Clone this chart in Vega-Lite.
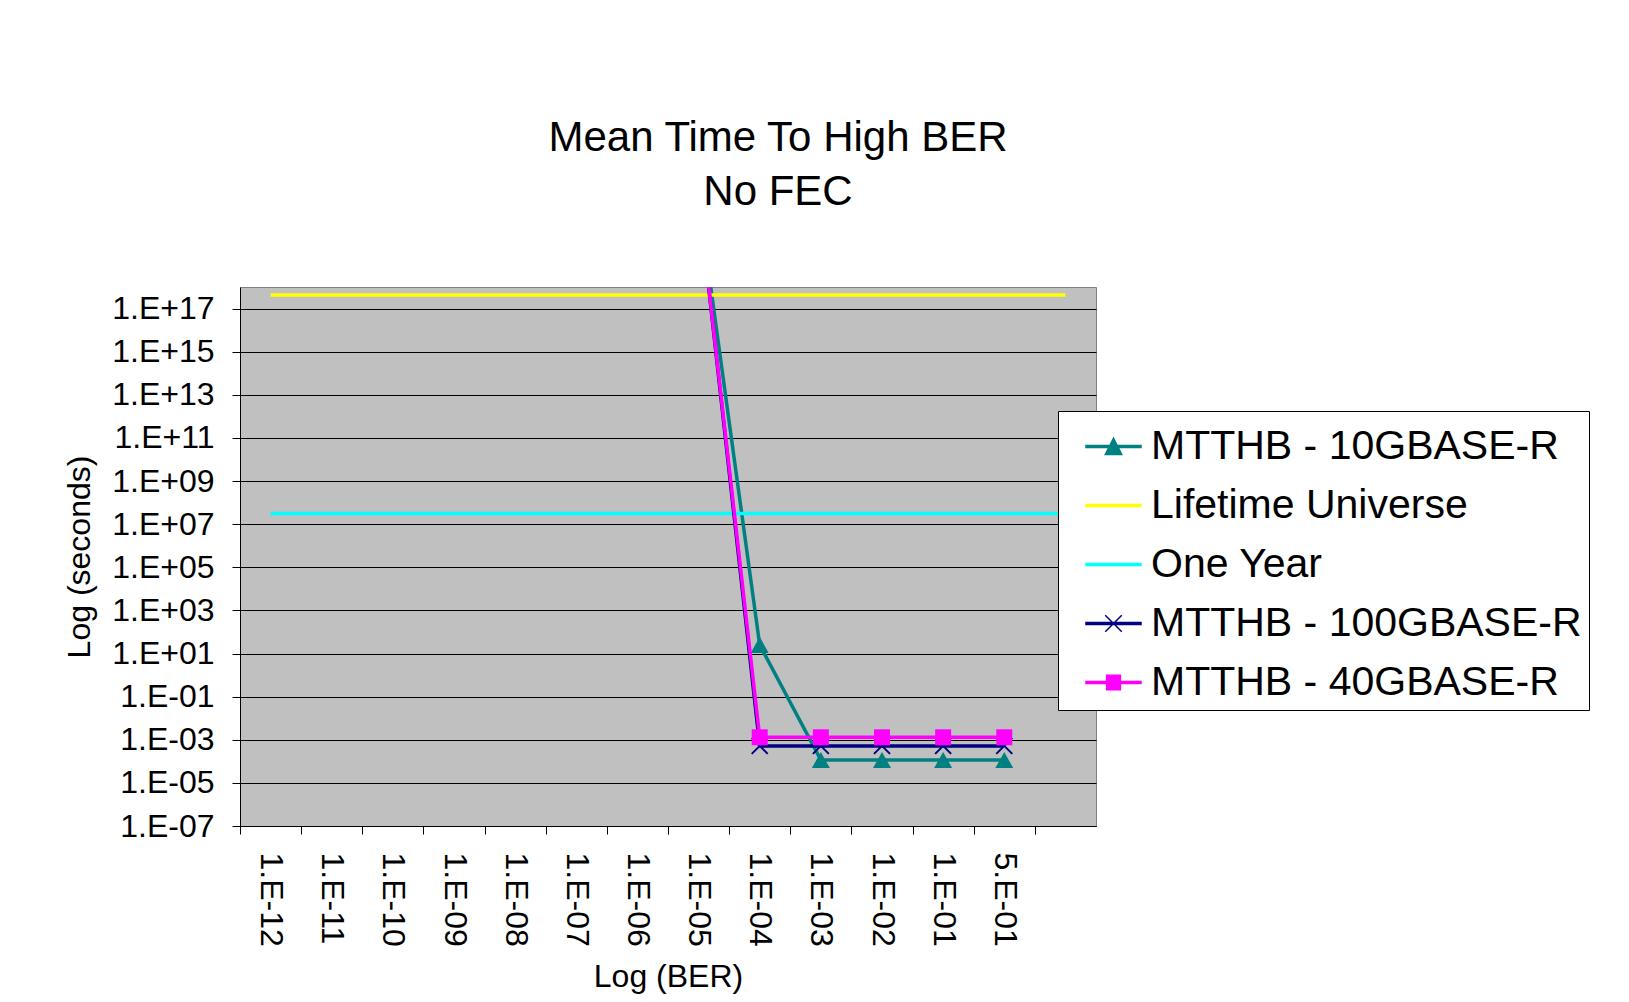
{
  "$schema": "https://vega.github.io/schema/vega-lite/v6.json",
  "width": 856,
  "height": 539,
  "autosize": {"type": "none"},
  "padding": {"left": 240, "top": 287, "right": 533, "bottom": 176},
  "background": "white",
  "title": {
    "text": ["Mean Time To High BER", "No FEC"],
    "font": "Liberation Sans",
    "fontSize": 42,
    "fontWeight": "normal",
    "color": "black",
    "lineHeight": 54,
    "anchor": "middle",
    "frame": "group",
    "dx": 110,
    "offset": 73
  },
  "config": {
    "view": {"fill": "#C0C0C0", "stroke": "#808080", "strokeWidth": 1},
    "font": "Liberation Sans"
  },
  "data": {
    "values": [
      {"ber": "1.E-12", "series": "Lifetime Universe", "seconds": 4.3e17},
      {"ber": "1.E-11", "series": "Lifetime Universe", "seconds": 4.3e17},
      {"ber": "1.E-10", "series": "Lifetime Universe", "seconds": 4.3e17},
      {"ber": "1.E-09", "series": "Lifetime Universe", "seconds": 4.3e17},
      {"ber": "1.E-08", "series": "Lifetime Universe", "seconds": 4.3e17},
      {"ber": "1.E-07", "series": "Lifetime Universe", "seconds": 4.3e17},
      {"ber": "1.E-06", "series": "Lifetime Universe", "seconds": 4.3e17},
      {"ber": "1.E-05", "series": "Lifetime Universe", "seconds": 4.3e17},
      {"ber": "1.E-04", "series": "Lifetime Universe", "seconds": 4.3e17},
      {"ber": "1.E-03", "series": "Lifetime Universe", "seconds": 4.3e17},
      {"ber": "1.E-02", "series": "Lifetime Universe", "seconds": 4.3e17},
      {"ber": "1.E-01", "series": "Lifetime Universe", "seconds": 4.3e17},
      {"ber": "5.E-01", "series": "Lifetime Universe", "seconds": 4.3e17},
      {"ber": " ", "series": "Lifetime Universe", "seconds": 4.3e17},
      {"ber": "1.E-12", "series": "One Year", "seconds": 3.15e7},
      {"ber": "1.E-11", "series": "One Year", "seconds": 3.15e7},
      {"ber": "1.E-10", "series": "One Year", "seconds": 3.15e7},
      {"ber": "1.E-09", "series": "One Year", "seconds": 3.15e7},
      {"ber": "1.E-08", "series": "One Year", "seconds": 3.15e7},
      {"ber": "1.E-07", "series": "One Year", "seconds": 3.15e7},
      {"ber": "1.E-06", "series": "One Year", "seconds": 3.15e7},
      {"ber": "1.E-05", "series": "One Year", "seconds": 3.15e7},
      {"ber": "1.E-04", "series": "One Year", "seconds": 3.15e7},
      {"ber": "1.E-03", "series": "One Year", "seconds": 3.15e7},
      {"ber": "1.E-02", "series": "One Year", "seconds": 3.15e7},
      {"ber": "1.E-01", "series": "One Year", "seconds": 3.15e7},
      {"ber": "5.E-01", "series": "One Year", "seconds": 3.15e7},
      {"ber": " ", "series": "One Year", "seconds": 3.15e7},
      {"ber": "1.E-05", "series": "MTTHB - 10GBASE-R", "seconds": 1.3e22},
      {"ber": "1.E-04", "series": "MTTHB - 10GBASE-R", "seconds": 25},
      {"ber": "1.E-03", "series": "MTTHB - 10GBASE-R", "seconds": 1.15e-4},
      {"ber": "1.E-02", "series": "MTTHB - 10GBASE-R", "seconds": 1.15e-4},
      {"ber": "1.E-01", "series": "MTTHB - 10GBASE-R", "seconds": 1.15e-4},
      {"ber": "5.E-01", "series": "MTTHB - 10GBASE-R", "seconds": 1.15e-4},
      {"ber": "1.E-05", "series": "MTTHB - 100GBASE-R", "seconds": 1.5e22},
      {"ber": "1.E-04", "series": "MTTHB - 100GBASE-R", "seconds": 5.2e-4},
      {"ber": "1.E-03", "series": "MTTHB - 100GBASE-R", "seconds": 5.2e-4},
      {"ber": "1.E-02", "series": "MTTHB - 100GBASE-R", "seconds": 5.2e-4},
      {"ber": "1.E-01", "series": "MTTHB - 100GBASE-R", "seconds": 5.2e-4},
      {"ber": "5.E-01", "series": "MTTHB - 100GBASE-R", "seconds": 5.2e-4},
      {"ber": "1.E-05", "series": "MTTHB - 40GBASE-R", "seconds": 1.5e22},
      {"ber": "1.E-04", "series": "MTTHB - 40GBASE-R", "seconds": 1.3e-3},
      {"ber": "1.E-03", "series": "MTTHB - 40GBASE-R", "seconds": 1.3e-3},
      {"ber": "1.E-02", "series": "MTTHB - 40GBASE-R", "seconds": 1.3e-3},
      {"ber": "1.E-01", "series": "MTTHB - 40GBASE-R", "seconds": 1.3e-3},
      {"ber": "5.E-01", "series": "MTTHB - 40GBASE-R", "seconds": 1.3e-3}
    ]
  },
  "encoding": {
    "x": {
      "field": "ber",
      "type": "ordinal",
      "sort": null,
      "scale": {
        "type": "point",
        "padding": 0.5,
        "domain": ["1.E-12", "1.E-11", "1.E-10", "1.E-09", "1.E-08", "1.E-07", "1.E-06", "1.E-05", "1.E-04", "1.E-03", "1.E-02", "1.E-01", "5.E-01", " "]
      },
      "axis": {
        "title": "Log (BER)",
        "titleFont": "Liberation Sans",
        "titleFontSize": 32,
        "titleFontWeight": "normal",
        "titleColor": "black",
        "titlePadding": 15,
        "labelFont": "Liberation Sans",
        "labelFontSize": 32,
        "labelColor": "black",
        "labelAngle": 90,
        "labelPadding": 18,
        "labelOverlap": false,
        "labelLimit": 0,
        "tickOffset": -30.571,
        "labelOffset": 30.571,
        "tickSize": 8,
        "tickColor": "black",
        "tickWidth": 1,
        "domainColor": "black",
        "domainWidth": 1,
        "grid": false
      }
    },
    "y": {
      "field": "seconds",
      "type": "quantitative",
      "scale": {"type": "log", "domain": [1e-7, 1e18], "nice": false},
      "axis": {
        "title": "Log (seconds)",
        "titleFont": "Liberation Sans",
        "titleFontSize": 32,
        "titleFontWeight": "normal",
        "titleColor": "black",
        "titlePadding": 15,
        "values": [1e-7, 1e-5, 1e-3, 1e-1, 10, 1e3, 1e5, 1e7, 1e9, 1e11, 1e13, 1e15, 1e17],
        "labelExpr": "'1.E' + (datum.value < 1 ? '-' : '+') + (abs(round(log(datum.value)/LN10)) < 10 ? '0' : '') + abs(round(log(datum.value)/LN10))",
        "labelFont": "Liberation Sans",
        "labelFontSize": 32,
        "labelColor": "black",
        "labelPadding": 18,
        "labelOverlap": false,
        "labelLimit": 0,
        "tickSize": 8,
        "tickColor": "black",
        "domainColor": "black",
        "grid": true,
        "gridColor": "black",
        "gridWidth": 1
      }
    },
    "color": {
      "field": "series",
      "type": "nominal",
      "scale": {
        "domain": ["MTTHB - 10GBASE-R", "Lifetime Universe", "One Year", "MTTHB - 100GBASE-R", "MTTHB - 40GBASE-R"],
        "range": ["#008080", "#FFFF00", "#00FFFF", "#000080", "#FF00FF"]
      },
      "legend": {
        "title": null,
        "orient": "none",
        "legendX": 818,
        "legendY": 124,
        "strokeColor": "black",
        "fillColor": "white",
        "padding": 7,
        "labelFont": "Liberation Sans",
        "labelFontSize": 41,
        "labelColor": "black",
        "labelLimit": 0,
        "symbolSize": 3025,
        "symbolOffset": 20,
        "labelOffset": 9,
        "rowPadding": 10,
        "encode": {
          "legend": {
            "update": {
              "width": {"value": 531}
            }
          },
          "symbols": {
            "update": {
              "shape": {"signal": "datum.value === 'MTTHB - 10GBASE-R' ? 'M-1,-0.035L1,-0.035L1,0.035L-1,0.035ZM-0.3,0.29L0,-0.3L0.3,0.29Z' : datum.value === 'MTTHB - 100GBASE-R' ? 'M-1,-0.035L1,-0.035L1,0.035L-1,0.035ZM-0.3,-0.3L0.3,0.3M-0.3,0.3L0.3,-0.3' : datum.value === 'MTTHB - 40GBASE-R' ? 'M-1,-0.035L1,-0.035L1,0.035L-1,0.035ZM-0.25,-0.26L0.25,-0.26L0.25,0.26L-0.25,0.26Z' : 'M-1,-0.035L1,-0.035L1,0.035L-1,0.035Z'"},
              "fill": {"signal": "scale('color', datum.value)"},
              "stroke": {"signal": "scale('color', datum.value)"},
              "strokeWidth": {"value": 1.5},
              "opacity": {"value": 1},
              "fillOpacity": {"value": 1},
              "strokeOpacity": {"value": 1}
            }
          }
        }
      }
    }
  },
  "layer": [
    {
      "transform": [{"filter": "datum.series === 'MTTHB - 10GBASE-R'"}],
      "mark": {"type": "line", "strokeWidth": 3.5, "clip": true}
    },
    {
      "transform": [{"filter": "datum.series === 'MTTHB - 10GBASE-R'"}],
      "mark": {"type": "point", "shape": "M-1,0.9L0,-0.9L1,0.9Z", "filled": true, "size": 324, "opacity": 1, "clip": true}
    },
    {
      "transform": [{"filter": "datum.series === 'Lifetime Universe'"}],
      "mark": {"type": "line", "strokeWidth": 3.5, "clip": true}
    },
    {
      "transform": [{"filter": "datum.series === 'One Year'"}],
      "mark": {"type": "line", "strokeWidth": 3.5, "clip": true}
    },
    {
      "transform": [{"filter": "datum.series === 'MTTHB - 100GBASE-R'"}],
      "mark": {"type": "line", "strokeWidth": 3.5, "clip": true}
    },
    {
      "transform": [{"filter": "datum.series === 'MTTHB - 100GBASE-R'"}],
      "mark": {"type": "point", "shape": "M-1,-1L1,1M-1,1L1,-1", "filled": false, "size": 256, "strokeWidth": 2, "opacity": 1, "clip": true}
    },
    {
      "transform": [{"filter": "datum.series === 'MTTHB - 40GBASE-R'"}],
      "mark": {"type": "line", "strokeWidth": 3.5, "clip": true}
    },
    {
      "transform": [{"filter": "datum.series === 'MTTHB - 40GBASE-R'"}],
      "mark": {"type": "point", "shape": "square", "filled": true, "size": 256, "opacity": 1, "clip": true}
    }
  ]
}
